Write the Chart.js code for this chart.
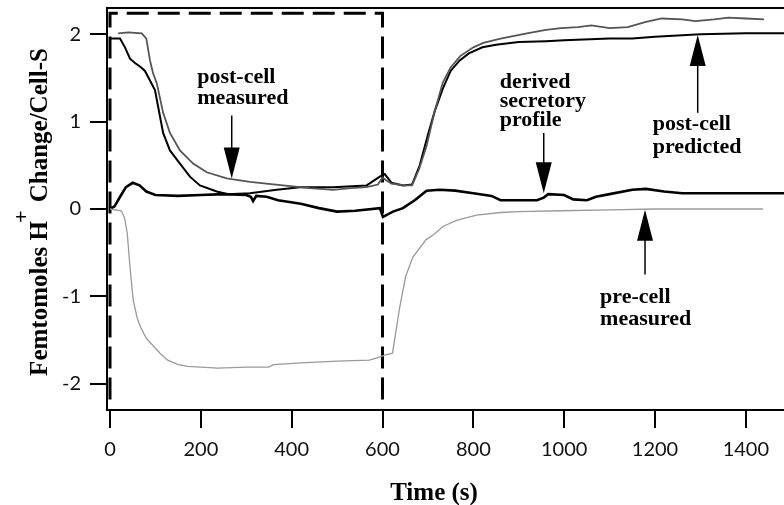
<!DOCTYPE html>
<html>
<head>
<meta charset="utf-8">
<script src="https://cdn.jsdelivr.net/npm/chart.js@4.4.1/dist/chart.umd.min.js"></script>
<style>
  html, body { margin: 0; padding: 0; background: #fff; }
</style>
</head>
<body>
<canvas id="chart" width="784" height="505"></canvas>
<script>
// values: time (s) vs femtomoles H+ change / cell-s
const xTicks = [0, 200, 400, 600, 800, 1000, 1200, 1400];
const yTicks = [-2, -1, 0, 1, 2];

// post-cell measured (grey trace)
const postMeasT = [18, 40, 70, 80, 88, 95, 103, 117, 132, 154, 183, 213, 257, 308, 381, 440, 491, 530, 565, 590, 600, 608, 620, 650, 665, 680, 697, 715, 733, 750, 771, 800, 822, 860, 918, 960, 993, 1030, 1060, 1100, 1140, 1180, 1215, 1260, 1289, 1330, 1362, 1400, 1440];
const postMeasY = [2.01, 2.02, 2.01, 1.95, 1.7, 1.55, 1.44, 1.1, 0.87, 0.67, 0.52, 0.42, 0.35, 0.31, 0.27, 0.24, 0.22, 0.24, 0.25, 0.28, 0.36, 0.33, 0.29, 0.27, 0.27, 0.45, 0.72, 1.12, 1.45, 1.62, 1.75, 1.85, 1.9, 1.95, 2.01, 2.05, 2.07, 2.08, 2.1, 2.07, 2.08, 2.14, 2.18, 2.17, 2.15, 2.17, 2.19, 2.18, 2.17];

// post-cell predicted (black trace)
const postPredT = [0, 22, 33, 44, 55, 66, 77, 88, 99, 117, 132, 154, 176, 198, 235, 260, 308, 367, 418, 491, 565, 594, 605, 620, 645, 665, 682, 700, 715, 733, 750, 770, 790, 820, 850, 900, 960, 1000, 1100, 1150, 1200, 1300, 1400, 1484];
const postPredY = [1.95, 1.95, 1.85, 1.72, 1.67, 1.63, 1.58, 1.47, 1.36, 0.87, 0.67, 0.52, 0.37, 0.27, 0.2, 0.17, 0.18, 0.22, 0.25, 0.25, 0.27, 0.37, 0.4, 0.3, 0.27, 0.28, 0.5, 0.85, 1.12, 1.38, 1.58, 1.7, 1.78, 1.85, 1.88, 1.91, 1.92, 1.93, 1.95, 1.95, 1.97, 2.0, 2.01, 2.01];

// derived secretory profile (thick black trace)
const derivedT = [0, 10, 20, 35, 50, 65, 80, 100, 150, 200, 250, 300, 310, 315, 322, 345, 370, 420, 460, 500, 540, 594, 601, 623, 645, 671, 697, 726, 760, 800, 840, 860, 940, 955, 965, 1000, 1020, 1050, 1070, 1100, 1150, 1180, 1220, 1260, 1484];
const derivedY = [0, 0.03, 0.12, 0.25, 0.3, 0.27, 0.2, 0.16, 0.15, 0.16, 0.17, 0.16, 0.14, 0.09, 0.15, 0.14, 0.1, 0.06, 0.01, -0.03, -0.02, 0.01, -0.09, -0.03, 0.01, 0.1, 0.21, 0.22, 0.21, 0.18, 0.15, 0.1, 0.1, 0.13, 0.17, 0.16, 0.11, 0.1, 0.14, 0.17, 0.22, 0.23, 0.2, 0.18, 0.18];

// pre-cell measured (light grey trace)
const preMeasT = [0, 25, 32, 38, 44, 51, 60, 67, 80, 89, 110, 127, 150, 171, 238, 300, 349, 360, 422, 500, 571, 590, 607, 622, 629, 637, 651, 667, 696, 711, 733, 763, 807, 860, 900, 993, 1100, 1200, 1438];
const preMeasY = [0, -0.02, -0.1, -0.28, -0.66, -1.04, -1.25, -1.35, -1.48, -1.53, -1.65, -1.73, -1.78, -1.8, -1.82, -1.81, -1.81, -1.78, -1.76, -1.74, -1.73, -1.7, -1.67, -1.65, -1.42, -1.15, -0.77, -0.55, -0.35, -0.3, -0.2, -0.13, -0.07, -0.04, -0.03, -0.02, -0.01, 0, 0];

// dashed box marking the 0-600 s period
const boxT = [0, 0, 600, 600];
const boxY = [-2.18, 2.24, 2.24, -2.18];

const pts = (t, y) => t.map((v, i) => ({ x: v, y: y[i] }));

// callout labels and arrows, in data units
const callouts = [
  { lines: ["post-cell", "measured"], x: 192, y: 1.44, gap: 21, arrowX: 268, from: 1.07, to: 0.35 },
  { lines: ["derived", "secretory", "profile"], x: 858, y: 1.39, gap: 19, arrowX: 955, from: 0.87, to: 0.18 },
  { lines: ["post-cell", "predicted"], x: 1195, y: 0.9, gap: 23, arrowX: 1294, from: 1.1, to: 1.99 },
  { lines: ["pre-cell", "measured"], x: 1079, y: -1.07, gap: 22, arrowX: 1178, from: -0.75, to: -0.01 },
];

const serif = '"Liberation Serif", "Times New Roman", serif';

const decorations = {
  id: "decorations",
  afterDraw(chart) {
    const { ctx, chartArea, scales } = chart;
    const xs = scales.x, ys = scales.y;
    ctx.save();
    // top frame line
    ctx.strokeStyle = "#000";
    ctx.lineWidth = 2;
    ctx.beginPath();
    ctx.moveTo(chartArea.left, chartArea.top);
    ctx.lineTo(chartArea.right, chartArea.top);
    ctx.stroke();

    // callouts
    ctx.fillStyle = "#000";
    ctx.font = "bold 22px " + serif;
    ctx.textAlign = "left";
    ctx.textBaseline = "alphabetic";
    callouts.forEach(c => {
      const px = xs.getPixelForValue(c.x);
      const py = ys.getPixelForValue(c.y);
      c.lines.forEach((s, i) => ctx.fillText(s, px, py + i * c.gap));
      const ax = xs.getPixelForValue(c.arrowX);
      const y0 = ys.getPixelForValue(c.from);
      const y1 = ys.getPixelForValue(c.to);
      const dir = y1 > y0 ? 1 : -1;
      ctx.lineWidth = 1.5;
      ctx.beginPath();
      ctx.moveTo(ax, y0);
      ctx.lineTo(ax, y1 - dir * 20);
      ctx.stroke();
      ctx.beginPath();
      ctx.moveTo(ax, y1);
      ctx.lineTo(ax - 8, y1 - dir * 31);
      ctx.lineTo(ax + 8, y1 - dir * 31);
      ctx.closePath();
      ctx.fill();
    });

    // axis titles
    ctx.font = "bold 25px " + serif;
    ctx.textAlign = "center";
    ctx.textBaseline = "alphabetic";
    ctx.fillText("Time (s)", 434, 500);

    ctx.translate(47, 212);
    ctx.rotate(-Math.PI / 2);
    const a = "Femtomoles H", b = " Change/Cell-S";
    ctx.font = "bold 25px " + serif;
    const wa = ctx.measureText(a).width;
    const wb = ctx.measureText(b).width;
    ctx.font = "bold 22px " + serif;
    const wp = ctx.measureText("+").width;
    const start = -(wa + wp + wb) / 2;
    ctx.textAlign = "left";
    ctx.font = "bold 25px " + serif;
    ctx.fillText(a, start, 0);
    ctx.fillText(b, start + wa + wp, 0);
    ctx.font = "bold 22px " + serif;
    ctx.fillText("+", start + wa - 2, -19);
    ctx.restore();
  }
};

const tickFont = { family: "Lato, 'Open Sans', sans-serif", size: 20 };
const plain = v => String(v);

new Chart(document.getElementById("chart"), {
  type: "line",
  data: {
    datasets: [
      { label: "pre-cell measured", data: pts(preMeasT, preMeasY), borderColor: "#9a9a9a", borderWidth: 1.3 },
      { label: "post-cell measured", data: pts(postMeasT, postMeasY), borderColor: "#555", borderWidth: 1.8 },
      { label: "post-cell predicted", data: pts(postPredT, postPredY), borderColor: "#000", borderWidth: 2 },
      { label: "derived secretory profile", data: pts(derivedT, derivedY), borderColor: "#000", borderWidth: 2.6 },
      { label: "stimulus", data: pts(boxT, boxY), borderColor: "#000", borderWidth: 3, borderDash: [22, 9] },
    ],
  },
  options: {
    responsive: false,
    animation: false,
    layout: { padding: { top: 8, right: 0, left: 0, bottom: 0 } },
    elements: { point: { radius: 0 }, line: { tension: 0, fill: false } },
    plugins: { legend: { display: false }, tooltip: { enabled: false } },
    scales: {
      x: {
        type: "linear",
        min: -6.6,
        max: 1484,
        afterBuildTicks: s => { s.ticks = xTicks.map(v => ({ value: v })); },
        afterFit: s => { s.height = 95; s.paddingLeft = 0; s.paddingRight = 0; },
        grid: { drawOnChartArea: false, drawTicks: true, tickLength: 18, color: "#000", lineWidth: 2 },
        border: { display: true, color: "#000", width: 2 },
        ticks: { font: tickFont, color: "#111", padding: 10, maxRotation: 0, callback: plain },
      },
      y: {
        min: -2.3,
        max: 2.3,
        afterBuildTicks: s => { s.ticks = yTicks.map(v => ({ value: v })); },
        afterFit: s => { s.width = 107; s.paddingTop = 0; s.paddingBottom = 0; },
        grid: { drawOnChartArea: false, drawTicks: true, tickLength: 17, color: "#000", lineWidth: 2 },
        border: { display: true, color: "#000", width: 2 },
        ticks: { font: tickFont, color: "#111", padding: 9, callback: plain },
      },
    },
  },
  plugins: [decorations],
});
</script>
</body>
</html>
